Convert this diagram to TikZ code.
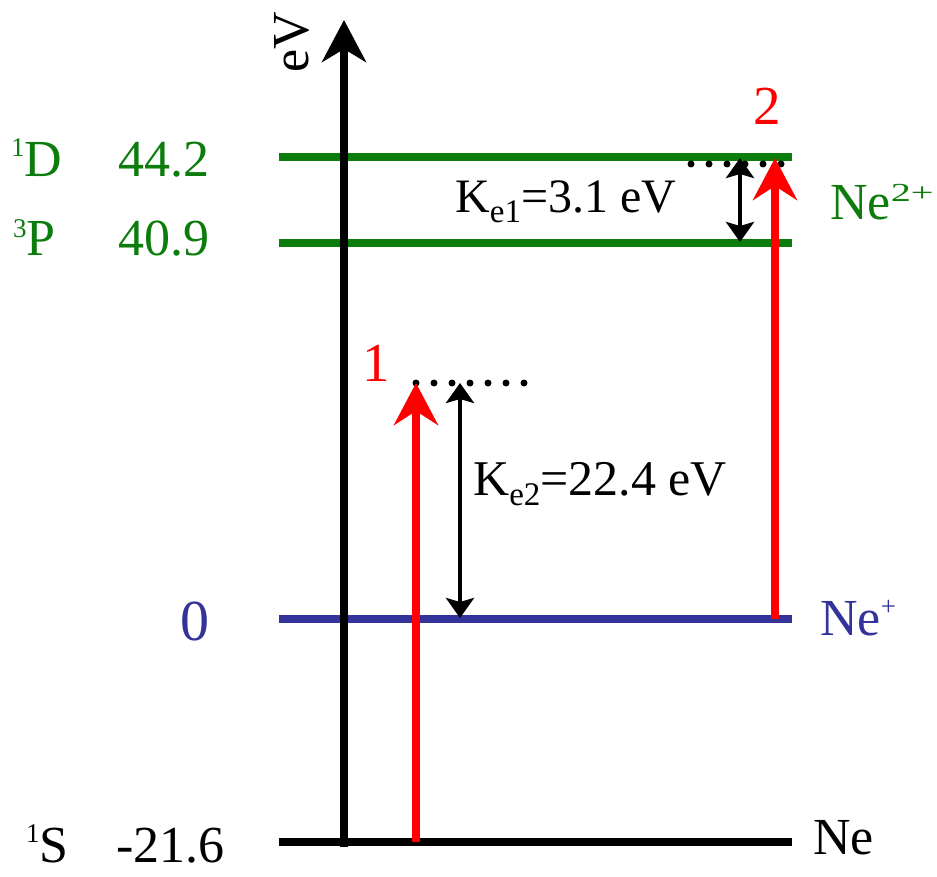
\documentclass[tikz,border=0pt]{standalone}
\usepackage{fontspec}
\usepackage{graphicx}
\setmainfont{Liberation Serif}
\usetikzlibrary{arrows.meta}
\definecolor{lvgreen}{RGB}{12,125,12}
\definecolor{lvblue}{RGB}{51,51,153}
\definecolor{lvred}{RGB}{255,0,0}
\newcommand{\supx}[2][19pt]{\raisebox{#1}{\fontsize{27}{27}\selectfont #2}}
\newcommand{\supwide}[1]{\raisebox{18pt}{\scalebox{1.55}[1]{\fontsize{26}{26}\selectfont #1}}}
\newcommand{\subx}[1]{\raisebox{-10pt}{\fontsize{33}{33}\selectfont #1}}
\tikzset{
  big/.style={font=\fontsize{52}{52}\selectfont, inner sep=0pt, anchor=base west},
  level/.style={line width=8pt},
  excite/.style={lvred, line width=8pt, -{Stealth[length=42pt,width=44pt,inset=14pt]}},
  gap/.style={black, line width=4.5pt, {Stealth[length=20pt,width=28pt,inset=4pt]}-{Stealth[length=20pt,width=28pt,inset=4pt]}},
  dotrow/.style={line width=7pt, line cap=round, dash pattern=on 0pt off 18pt},
}
\begin{document}
\begin{tikzpicture}[x=1pt,y=-1pt]
\useasboundingbox (0,0) rectangle (937,877);
% level end points
\coordinate (dL) at (279,157); \coordinate (dR) at (792,157);
\coordinate (pL) at (279,243); \coordinate (pR) at (792,243);
\coordinate (iL) at (279,619); \coordinate (iR) at (792,619);
\coordinate (gL) at (279,842); \coordinate (gR) at (792,842);
\draw[level, lvgreen] (dL) -- (dR);
\draw[level, lvgreen] (pL) -- (pR);
\draw[level, lvblue] (iL) -- (iR);
\draw[level, black] (gL) -- (gR);
% axis
\coordinate (ax0) at (344,847);
\coordinate (ax1) at (344,20);
\draw[line width=7.5pt, -{Stealth[length=42pt,width=44pt,inset=13pt]}] (ax0) -- (ax1);
\node[font=\fontsize{52}{52}\selectfont, inner sep=0pt, rotate=90, anchor=base] (ev) at (308,42) {eV};
% dotted virtual levels
\coordinate (v1a) at (416,383); \coordinate (v1b) at (530,383);
\coordinate (v2a) at (691,164); \coordinate (v2b) at (787,164);
\draw[dotrow] (v1a) -- (v1b);
\draw[dotrow] (v2a) -- (v2b);
% excitation arrows
\coordinate (r1a) at (416,842); \coordinate (r1b) at (416,383);
\coordinate (r2a) at (775,619); \coordinate (r2b) at (775,158);
\draw[excite] (r1a) -- (r1b);
\draw[excite] (r2a) -- (r2b);
% kinetic energy arrows
\coordinate (k2a) at (460,383); \coordinate (k2b) at (460,618);
\coordinate (k1a) at (740,158); \coordinate (k1b) at (740,242);
\draw[gap] (k2a) -- (k2b);
\draw[gap] (k1a) -- (k1b);
% labels
\node[big, lvgreen] (ld) at (11,177) {\supx[20pt]{1}D};
\node[big, lvgreen] (ed) at (118,177) {44.2};
\node[big, lvgreen] (lp) at (13,256) {\supx[18pt]{3}P};
\node[big, lvgreen] (ep) at (118,256) {40.9};
\node[big, lvblue, font=\fontsize{58}{58}\selectfont] (ei) at (180,640) {0};
\node[big, black] (ls) at (26,862) {\supx[20pt]{1}S};
\node[big, black] (es) at (116,862) {-21.6};
\node[big, lvgreen] (n2) at (830,220) {Ne\supwide{2+}};
\node[big, lvblue] (n1) at (820,635) {Ne\supx[20pt]{+}};
\node[big, black] (n0) at (813,854) {Ne};
\node[big, lvred, font=\fontsize{55}{55}\selectfont] (t1) at (362,381) {1};
\node[big, lvred, font=\fontsize{55}{55}\selectfont] (t2) at (753,125) {2};
\node[big, font=\fontsize{48}{48}\selectfont] (ke1) at (455,213) {K\subx{e1}=3.1 eV};
\node[big, font=\fontsize{50}{50}\selectfont] (ke2) at (473,495) {K\subx{e2}=22.4 eV};
\end{tikzpicture}
\end{document}
